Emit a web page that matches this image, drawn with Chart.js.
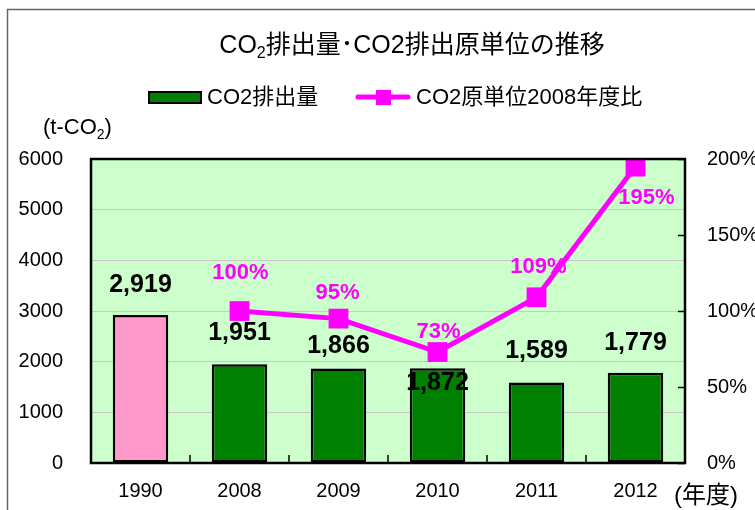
<!DOCTYPE html>
<html>
<head>
<meta charset="utf-8">
<script src="https://cdn.jsdelivr.net/npm/chart.js@4"></script>
<style>
  html, body { margin: 0; padding: 0; background: #fff; overflow: hidden; }
  #wrap { width: 755px; height: 510px; position: relative; }
</style>
</head>
<body>
<div id="wrap"><canvas id="chart"></canvas></div>
<script>
// data
const years = ['1990', '2008', '2009', '2010', '2011', '2012'];
const emissions = [2919, 1951, 1866, 1872, 1589, 1779];       // t-CO2
const ratio2008 = [null, 100, 95, 73, 109, 195];               // % of 2008
const leftTicks = [0, 1000, 2000, 3000, 4000, 5000, 6000];
const rightTicks = [0, 50, 100, 150, 200];

const JP = '"Liberation Sans", "Noto Sans CJK JP", sans-serif';
const TICK_FONT = { family: '"Liberation Sans", sans-serif', size: 20 };
const MAGENTA = '#FF00FF';

// draw text with a subscript "2" after the given prefix
function textWithSub(ctx, parts, x, y, size, align) {
  // parts: [normal, sub, normal]
  const subSize = Math.round(size * 0.62);
  ctx.font = size + 'px ' + JP;
  const w0 = ctx.measureText(parts[0]).width;
  const w2 = ctx.measureText(parts[2]).width;
  ctx.font = subSize + 'px ' + JP;
  const w1 = ctx.measureText(parts[1]).width;
  let sx = align === 'center' ? x - (w0 + w1 + w2) / 2 : x;
  ctx.textAlign = 'left';
  ctx.textBaseline = 'middle';
  ctx.font = size + 'px ' + JP;
  ctx.fillText(parts[0], sx, y);
  ctx.font = subSize + 'px ' + JP;
  ctx.fillText(parts[1], sx + w0, y + size * 0.32);
  ctx.font = size + 'px ' + JP;
  ctx.fillText(parts[2], sx + w0 + w1, y);
}

const decor = {
  id: 'decor',
  beforeDraw(chart) {
    const { ctx, chartArea: a } = chart;
    ctx.save();
    ctx.fillStyle = '#CCFFCC';
    ctx.fillRect(a.left, a.top, a.right - a.left, a.bottom - a.top);
    ctx.restore();
  },
  beforeDatasetsDraw(chart) {
    const { ctx, chartArea: a, scales } = chart;
    ctx.save();
    ctx.strokeStyle = '#000';
    ctx.lineWidth = 1.5;
    // inward ticks on the right axis
    rightTicks.forEach(v => {
      const y = Math.round(scales.y2.getPixelForValue(v)) + 0.5;
      ctx.beginPath(); ctx.moveTo(a.right - 7, y); ctx.lineTo(a.right, y); ctx.stroke();
    });
    // inward ticks between categories
    for (let i = 1; i < years.length; i++) {
      const x = (scales.x.getPixelForValue(i - 1) + scales.x.getPixelForValue(i)) / 2;
      ctx.beginPath(); ctx.moveTo(x, a.bottom - 8); ctx.lineTo(x, a.bottom); ctx.stroke();
    }
    ctx.restore();
  },
  afterDatasetsDraw(chart) {
    const { ctx, chartArea: a } = chart;
    ctx.save();
    ctx.strokeStyle = '#000';
    ctx.lineWidth = 2.5;
    ctx.strokeRect(a.left, a.top, a.right - a.left, a.bottom - a.top);

    // value labels
    const barDy = [-30, -31, -22, 15, -31, -30];
    const lineDy = [0, -38, -26, -20, -30, 31];
    const lineDx = [0, 1, -1, 1, 2, 11];
    ctx.textAlign = 'center';
    ctx.textBaseline = 'middle';
    ctx.fillStyle = '#000';
    ctx.font = 'bold 25px "Liberation Sans", sans-serif';
    chart.getDatasetMeta(0).data.forEach((bar, i) => {
      ctx.fillText(emissions[i].toLocaleString('en-US'), bar.x, bar.y + barDy[i]);
    });
    ctx.fillStyle = MAGENTA;
    ctx.font = 'bold 22px "Liberation Sans", sans-serif';
    chart.getDatasetMeta(1).data.forEach((pt, i) => {
      if (ratio2008[i] == null) return;
      ctx.fillText(ratio2008[i] + '%', pt.x + lineDx[i], pt.y + lineDy[i]);
    });
    ctx.restore();
  },
  afterDraw(chart) {
    const { ctx } = chart;
    ctx.save();
    // frame of the original sheet
    ctx.strokeStyle = '#666';
    ctx.lineWidth = 1.5;
    ctx.beginPath();
    ctx.moveTo(7.5, 510); ctx.lineTo(7.5, 9.5); ctx.lineTo(755, 9.5);
    ctx.stroke();

    ctx.fillStyle = '#000';
    // title
    textWithSub(ctx, ['CO', '2', '排出量･CO2排出原単位の推移'], 412, 46, 25, 'center');
    // axis units
    textWithSub(ctx, ['(t-CO', '2', ')'], 43, 128, 22, 'left');
    ctx.font = '24px ' + JP;
    ctx.textAlign = 'left';
    ctx.textBaseline = 'middle';
    ctx.fillText('(年度)', 674, 496);

    // legend
    ctx.fillStyle = '#008000';
    ctx.fillRect(149, 92, 52, 11);
    ctx.strokeStyle = '#000';
    ctx.lineWidth = 2;
    ctx.strokeRect(149, 92, 52, 11);
    ctx.fillStyle = '#000';
    ctx.font = '22px ' + JP;
    ctx.fillText('CO2排出量', 207, 98);
    ctx.strokeStyle = MAGENTA;
    ctx.lineWidth = 5;
    ctx.lineCap = 'round';
    ctx.beginPath(); ctx.moveTo(358, 97); ctx.lineTo(408, 97); ctx.stroke();
    ctx.fillStyle = MAGENTA;
    ctx.fillRect(376, 90, 15, 15);
    ctx.fillStyle = '#000';
    ctx.fillText('CO2原単位2008年度比', 416, 98);
    ctx.restore();
  }
};

new Chart(document.getElementById('chart'), {
  data: {
    labels: years,
    datasets: [
      {
        type: 'bar',
        label: 'CO2排出量',
        data: emissions,
        yAxisID: 'y',
        order: 2,
        backgroundColor: ctx => ctx.dataIndex === 0 ? '#FF99CC' : '#008000',
        borderColor: '#000',
        borderWidth: 2.5,
        borderSkipped: false,
        barPercentage: 0.56,
        categoryPercentage: 1
      },
      {
        type: 'line',
        label: 'CO2原単位2008年度比',
        data: ratio2008,
        yAxisID: 'y2',
        order: 1,
        borderColor: MAGENTA,
        borderWidth: 5,
        pointStyle: 'rect',
        pointRadius: 14,
        pointBackgroundColor: MAGENTA,
        pointBorderColor: MAGENTA,
        pointBorderWidth: 0,
        tension: 0
      }
    ]
  },
  options: {
    responsive: true,
    maintainAspectRatio: false,
    animation: false,
    layout: { padding: { top: 159, left: 0, right: 0, bottom: 0 } },
    plugins: {
      legend: { display: false },
      title: { display: false },
      tooltip: { enabled: false }
    },
    scales: {
      x: {
        grid: { display: false },
        border: { display: false },
        ticks: { color: '#000', font: TICK_FONT, padding: 8 },
        afterFit(s) { s.height = 47; }
      },
      y: {
        position: 'left',
        min: 0,
        max: 6000,
        afterBuildTicks(s) { s.ticks = leftTicks.map(v => ({ value: v })); },
        ticks: { color: '#000', font: TICK_FONT, padding: 28, callback: v => String(v) },
        grid: { color: '#c8c8c8', lineWidth: 1, drawTicks: false },
        border: { display: false },
        afterFit(s) { s.width = 91; }
      },
      y2: {
        position: 'right',
        min: 0,
        max: 200,
        afterBuildTicks(s) { s.ticks = rightTicks.map(v => ({ value: v })); },
        ticks: { color: '#000', font: TICK_FONT, padding: 22, callback: v => v + '%' },
        grid: { display: false, drawTicks: false },
        border: { display: false },
        afterFit(s) { s.width = 70; }
      }
    }
  },
  plugins: [decor]
});
</script>
</body>
</html>
